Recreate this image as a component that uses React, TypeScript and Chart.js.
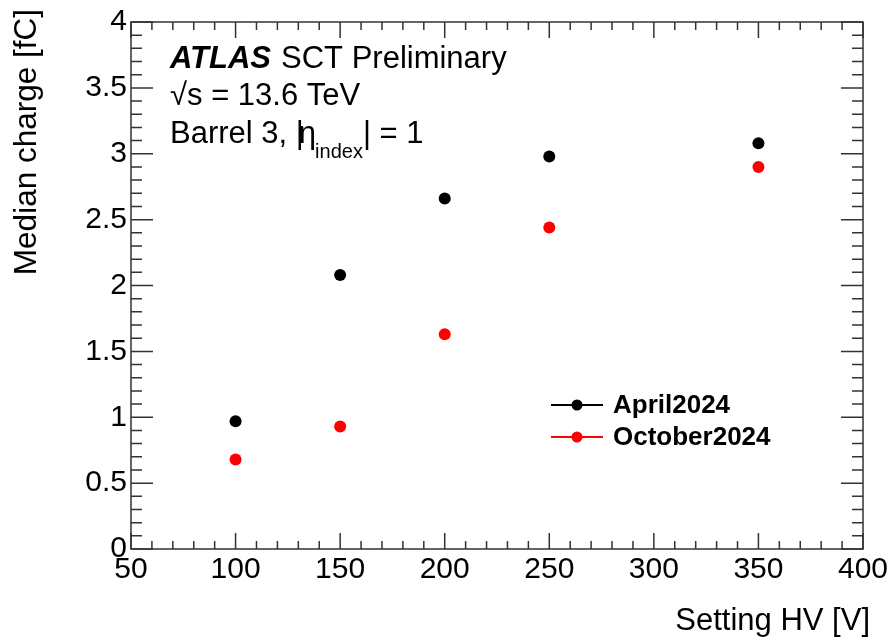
import React, { useEffect, useRef } from "react";
import { Chart, registerables } from "chart.js";

Chart.register(...registerables);

// ---------- data ----------
const hvValues = [100, 150, 200, 250, 350];
const april2024 = [0.97, 2.08, 2.66, 2.98, 3.08];
const october2024 = [0.68, 0.93, 1.63, 2.44, 2.9];
const seriesLabels = ["April2024", "October2024"];
const seriesColors = ["#000000", "#ff0000"];
const xTitle = "Setting HV [V]";
const yTitle = "Median charge [fC]";
const xMin = 50;
const xMax = 400;
const xMajorStep = 50;
const xMinorStep = 10;
const yMin = 0;
const yMax = 4;
const yMajorStep = 0.5;
const yMinorStep = 0.1;
const atlasLabel = "ATLAS";
const atlasSuffix = "SCT Preliminary";
const energyLabel = "\u221As = 13.6 TeV";
const regionPrefix = "Barrel 3, |";
const regionEta = "\u03B7";
const regionSub = "index";
const regionSuffix = "| = 1";

const FONT = "'Liberation Sans', Arial, Helvetica, sans-serif";

const rootStylePlugin = {
  id: "rootStyle",
  beforeDatasetsDraw(chart: any) {
    const { ctx, chartArea } = chart;
    const xs = chart.scales.x;
    const ys = chart.scales.y;
    const { left, right, top, bottom } = chartArea;
    ctx.save();
    ctx.strokeStyle = "#333333";
    ctx.lineWidth = 1.5;
    ctx.strokeRect(left, top, right - left, bottom - top);
    ctx.beginPath();
    const nx = Math.round((xMax - xMin) / xMinorStep);
    const perMajorX = Math.round(xMajorStep / xMinorStep);
    for (let i = 0; i <= nx; i++) {
      const v = xMin + i * xMinorStep;
      const px = xs.getPixelForValue(v);
      const len = i % perMajorX === 0 ? 16 : 8;
      ctx.moveTo(px, bottom);
      ctx.lineTo(px, bottom - len);
      ctx.moveTo(px, top);
      ctx.lineTo(px, top + len);
    }
    const ny = Math.round((yMax - yMin) / yMinorStep);
    const perMajorY = Math.round(yMajorStep / yMinorStep);
    for (let i = 0; i <= ny; i++) {
      const v = yMin + i * yMinorStep;
      const py = ys.getPixelForValue(v);
      const len = i % perMajorY === 0 ? 22 : 11;
      ctx.moveTo(left, py);
      ctx.lineTo(left + len, py);
      ctx.moveTo(right, py);
      ctx.lineTo(right - len, py);
    }
    ctx.stroke();
    ctx.restore();
  },
  afterDraw(chart: any) {
    const { ctx, chartArea } = chart;
    ctx.save();
    ctx.fillStyle = "#000";
    ctx.textBaseline = "alphabetic";

    // axis titles
    ctx.font = `31px ${FONT}`;
    ctx.textAlign = "right";
    ctx.fillText(xTitle, chartArea.right + 7, 630);
    ctx.save();
    ctx.translate(36, 9);
    ctx.rotate(-Math.PI / 2);
    ctx.textAlign = "right";
    ctx.font = `31.5px ${FONT}`;
    ctx.fillText(yTitle, 0, 0);
    ctx.restore();

    // ATLAS label
    ctx.textAlign = "left";
    let x = 170;
    ctx.font = `italic bold 31px ${FONT}`;
    ctx.fillText(atlasLabel, x, 68);
    x += ctx.measureText(atlasLabel).width + 10;
    ctx.font = `31px ${FONT}`;
    ctx.fillText(atlasSuffix, x, 68);

    ctx.fillText(energyLabel, 170, 105);

    x = 170;
    ctx.fillText(regionPrefix, x, 143);
    x += ctx.measureText(regionPrefix).width - 5;
    ctx.fillText(regionEta, x, 143);
    x += ctx.measureText(regionEta).width - 1;
    ctx.font = `20px ${FONT}`;
    ctx.fillText(regionSub, x, 158);
    x += ctx.measureText(regionSub).width;
    ctx.font = `31px ${FONT}`;
    ctx.fillText(regionSuffix, x, 143);

    // legend
    const datasets = chart.data.datasets;
    datasets.forEach((ds: any, i: number) => {
      const ly = 405 + 32 * i;
      ctx.strokeStyle = ds.backgroundColor;
      ctx.lineWidth = 2;
      ctx.beginPath();
      ctx.moveTo(551, ly);
      ctx.lineTo(603, ly);
      ctx.stroke();
      ctx.fillStyle = ds.backgroundColor;
      ctx.beginPath();
      ctx.arc(577, ly, 5.5, 0, Math.PI * 2);
      ctx.fill();
      ctx.fillStyle = "#000";
      ctx.font = `bold 26px ${FONT}`;
      ctx.textBaseline = "middle";
      ctx.fillText(ds.label, 613, ly + 1);
      ctx.textBaseline = "alphabetic";
    });
    ctx.restore();
  },
};

export default function App() {
  const ref = useRef<HTMLCanvasElement | null>(null);

  useEffect(() => {
    document.body.style.margin = "0";
    const canvas = ref.current;
    if (!canvas) return;
    const seriesValues = [april2024, october2024];
    const chart = new Chart(canvas, {
      type: "scatter",
      data: {
        datasets: seriesValues.map((vals, i) => ({
          label: seriesLabels[i],
          data: hvValues.map((h, j) => ({ x: h, y: vals[j] })),
          backgroundColor: seriesColors[i],
          borderColor: seriesColors[i],
          pointRadius: 6,
          pointBorderWidth: 0,
          showLine: false,
        })),
      },
      options: {
        animation: false,
        responsive: false,
        devicePixelRatio: 1,
        layout: { padding: { top: 22, right: 30, left: 0, bottom: 0 } },
        plugins: {
          legend: { display: false },
          tooltip: { enabled: false },
          title: { display: false },
        },
        scales: {
          x: {
            type: "linear",
            min: xMin,
            max: xMax,
            position: "bottom",
            afterFit: (s: any) => {
              s.height = 90;
            },
            grid: { display: false, drawTicks: false },
            border: { display: false },
            ticks: {
              stepSize: xMajorStep,
              autoSkip: false,
              maxRotation: 0,
              padding: 3,
              color: "#000",
              font: { family: FONT, size: 30 },
              callback: (v: any) => String(v),
            },
          },
          y: {
            type: "linear",
            min: yMin,
            max: yMax,
            position: "left",
            afterFit: (s: any) => {
              s.width = 131;
            },
            grid: { display: false, drawTicks: false },
            border: { display: false },
            ticks: {
              stepSize: yMajorStep,
              autoSkip: false,
              padding: 4,
              color: "#000",
              font: { family: FONT, size: 30 },
              callback: (v: any) => String(Math.round(v * 10) / 10),
            },
          },
        },
      },
      plugins: [rootStylePlugin],
    } as any);
    return () => chart.destroy();
  }, []);

  return (
    <div style={{ position: "absolute", left: 0, top: 0, width: 893, height: 639, background: "#fff" }}>
      <canvas ref={ref} width={893} height={639} style={{ display: "block", width: 893, height: 639 }} />
    </div>
  );
}
